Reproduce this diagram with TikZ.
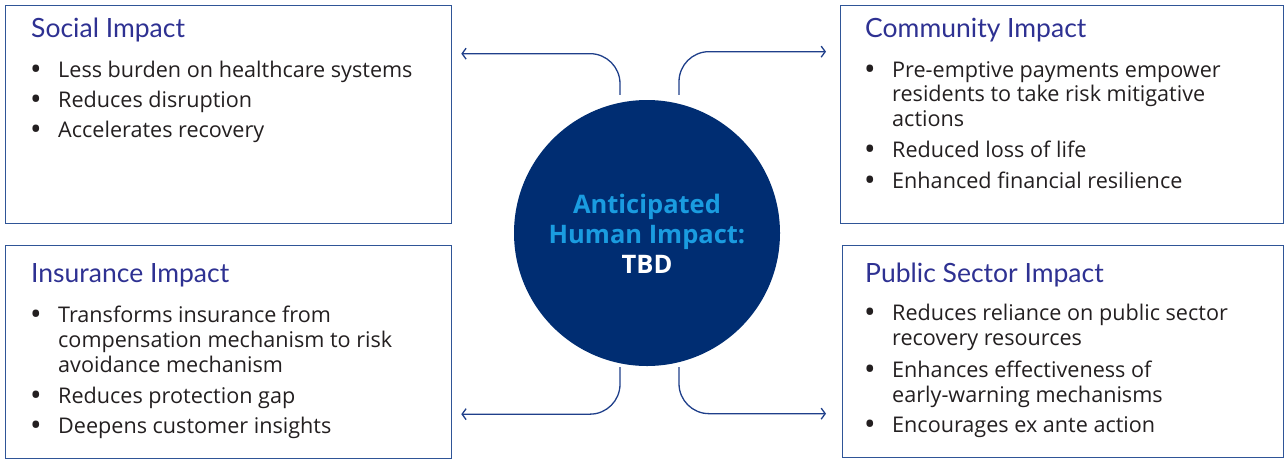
\documentclass[tikz,border=0pt]{standalone}
\usepackage{fontspec}
\setmainfont{Open Sans}
\newfontfamily\titlefam{Lato}
\newfontfamily\hubfam{Open Sans}
\usetikzlibrary{arrows.meta,calc}
\definecolor{navy}{HTML}{002D72}
\definecolor{boxline}{HTML}{2F5597}
\definecolor{titleblue}{HTML}{2E3192}
\definecolor{hubblue}{HTML}{1A9CE0}
\definecolor{bodytxt}{HTML}{231F20}
\definecolor{connline}{HTML}{1F3F8A}
\tikzset{
  panel/.style={draw=boxline, line width=1.3pt, anchor=north west, inner sep=0pt},
  ttl/.style={anchor=base west, inner sep=0pt, text=titleblue, font=\titlefam\fontsize{26.5}{30}\selectfont},
  itm/.style={anchor=base west, inner sep=0pt, text=bodytxt, font=\fontsize{21.6}{26}\selectfont},
  bul/.style={anchor=base, inner sep=0pt, text=bodytxt, font=\bfseries\fontsize{24}{26}\selectfont},
  hub/.style={circle, fill=navy, minimum size=266pt, inner sep=0pt},
  hubtxt/.style={anchor=base, inner sep=0pt, font=\hubfam\bfseries\fontsize{25.5}{30}\selectfont},
  conn/.style={draw=connline, line width=1.3pt, rounded corners=30pt, -{Straight Barb[length=4pt,width=11pt]}}
}
\begin{document}
\begin{tikzpicture}[x=1pt,y=-1pt]
\useasboundingbox (0,0) rectangle (1285,459);
% panels
\node[panel, minimum width=446pt, minimum height=218pt] (sl) at (5,5) {};
\node[panel, minimum width=443pt, minimum height=218pt] (cm) at (840,5) {};
\node[panel, minimum width=446pt, minimum height=213pt] (in) at (5,245) {};
\node[panel, minimum width=441pt, minimum height=212pt] (ps) at (842,245) {};
% hub
\node[hub] (hb) at (647,233) {};
\node[hubtxt, text=hubblue] (h1) at (647,213) {Anticipated};
\node[hubtxt, text=hubblue] (h2) at (647,243) {Human Impact:};
\node[hubtxt, text=white] (h3) at (647,273) {TBD};
% social
\node[ttl] (slt) at (31,37) {Social Impact};
\node[bul] (slb1) at (36,77) {•}; \node[itm] (sl1) at (58,77) {Less burden on healthcare systems};
\node[bul] (slb2) at (36,107) {•}; \node[itm] (sl2) at (58,107) {Reduces disruption};
\node[bul] (slb3) at (36,137) {•}; \node[itm] (sl3) at (58,137) {Accelerates recovery};
% community
\node[ttl] (cmt) at (865,37) {Community Impact};
\node[bul] (cmb1) at (870,77) {•}; \node[itm] (cm1a) at (892,77) {Pre-emptive payments empower};
\node[itm] (cm1b) at (892,101) {residents to take risk mitigative};
\node[itm] (cm1c) at (892,126) {actions};
\node[bul] (cmb2) at (870,157) {•}; \node[itm] (cm2) at (892,157) {Reduced loss of life};
\node[bul] (cmb3) at (870,188) {•}; \node[itm] (cm3) at (892,188) {Enhanced financial resilience};
% insurance
\node[ttl] (int) at (31,282) {Insurance Impact};
\node[bul] (inb1) at (36,322) {•}; \node[itm] (in1a) at (58,322) {Transforms insurance from};
\node[itm] (in1b) at (58,347) {compensation mechanism to risk};
\node[itm] (in1c) at (58,372) {avoidance mechanism};
\node[bul] (inb2) at (36,403) {•}; \node[itm] (in2) at (58,403) {Reduces protection gap};
\node[bul] (inb3) at (36,433) {•}; \node[itm] (in3) at (58,433) {Deepens customer insights};
% public sector
\node[ttl] (pst) at (865,282) {Public Sector Impact};
\node[bul] (psb1) at (870,320) {•}; \node[itm] (ps1a) at (892,320) {Reduces reliance on public sector};
\node[itm] (ps1b) at (892,345) {recovery resources};
\node[bul] (psb2) at (870,377) {•}; \node[itm] (ps2a) at (892,377) {Enhances effectiveness of};
\node[itm] (ps2b) at (892,402) {early-warning mechanisms};
\node[bul] (psb3) at (870,432) {•}; \node[itm] (ps3) at (892,432) {Encourages ex ante action};
% connector ends
\coordinate (e1) at ($(sl.east)+(9,-61)$);
\coordinate (e2) at ($(cm.west)+(-14,-63)$);
\coordinate (e3) at ($(in.east)+(9,62)$);
\coordinate (e4) at ($(ps.west)+(-16,62)$);
\draw[conn] ($(hb.north)+(-27,-5)$) |- (e1);
\draw[conn] ($(hb.north)+(32,-5)$) |- (e2);
\draw[conn] ($(hb.south)+(-27,1)$) |- (e3);
\draw[conn] ($(hb.south)+(32,1)$) |- (e4);
\end{tikzpicture}
\end{document}
